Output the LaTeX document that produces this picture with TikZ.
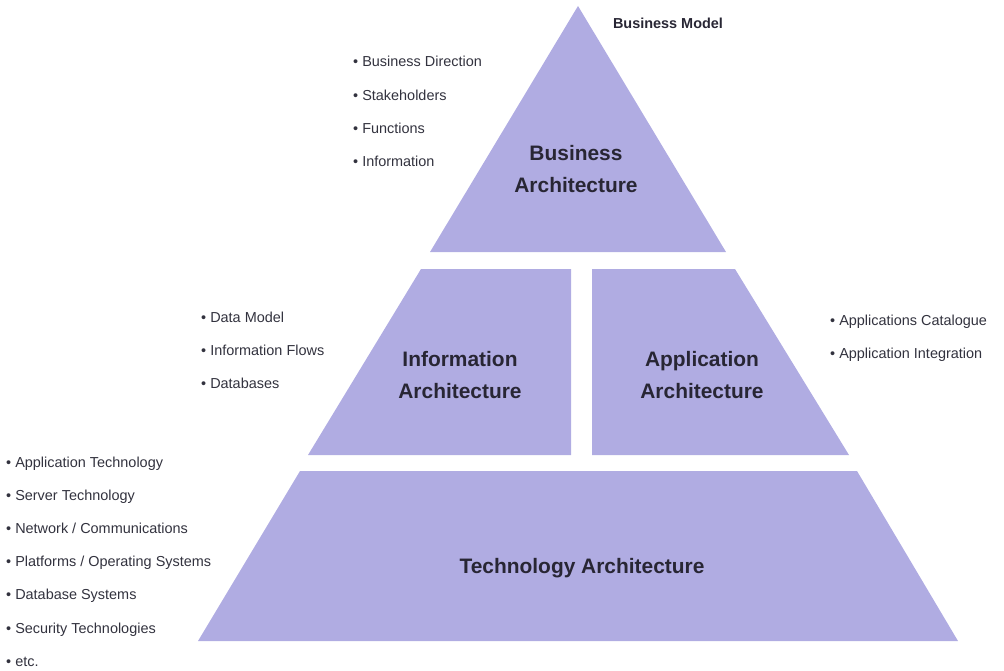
\documentclass[tikz,border=0pt]{standalone}
\usepackage{fontspec}
\setmainfont{Liberation Sans}

\definecolor{layerfill}{RGB}{176,172,226}
\definecolor{ink}{RGB}{40,38,52}
\definecolor{note}{RGB}{50,50,62}

\tikzset{
	layer/.style={fill=layerfill, draw=none},
	title/.style={font=\fontsize{21}{32}\selectfont\bfseries, text=ink, align=center, inner sep=0pt},
	bullet/.style={font=\fontsize{14.5}{16}\selectfont, text=note, anchor=base west, inner sep=0pt},
}

\begin{document}
\begin{tikzpicture}[x=1bp, y=-1bp]
\useasboundingbox (0,0) rectangle (1004,671);

% layers of the pyramid
\draw[layer] (578,6) -- (726,252) -- (430,252) -- cycle;
\draw[layer] (421,269) -- (571,269) -- (571,455) -- (308,455) -- cycle;
\draw[layer] (592,269) -- (735,269) -- (849,455) -- (592,455) -- cycle;
\draw[layer] (300,471) -- (857,471) -- (958,641) -- (198,641) -- cycle;

\node[title] (business) at (576,169) {Business\\Architecture};
\node[title] (information) at (460,375) {Information\\Architecture};
\node[title] (application) at (702,375) {Application\\Architecture};
\node[title] (technology) at (582,568) {Technology Architecture};

\node[font=\fontsize{14.5}{16}\selectfont\bfseries, text=ink] (model) at (668,23) {Business Model};

% bullet lists beside each layer (placed on their baselines)
\foreach \txt [count=\i] in {Business Direction, Stakeholders, Functions, Information} {
	\node[bullet] (bus\i) at (353,{67+33.3*(\i-1)}) {• \txt};
}

\foreach \txt [count=\i] in {Data Model, Information Flows, Databases} {
	\node[bullet] (info\i) at (201,{322+33*(\i-1)}) {• \txt};
}

\foreach \txt [count=\i] in {Applications Catalogue, Application Integration} {
	\node[bullet] (app\i) at (830,{325+33*(\i-1)}) {• \txt};
}

\foreach \txt [count=\i] in {Application Technology, Server Technology, Network / Communications, Platforms / Operating Systems, Database Systems, Security Technologies, etc.} {
	\node[bullet] (tech\i) at (6,{467+33.2*(\i-1)}) {• \txt};
}
\end{tikzpicture}
\end{document}
